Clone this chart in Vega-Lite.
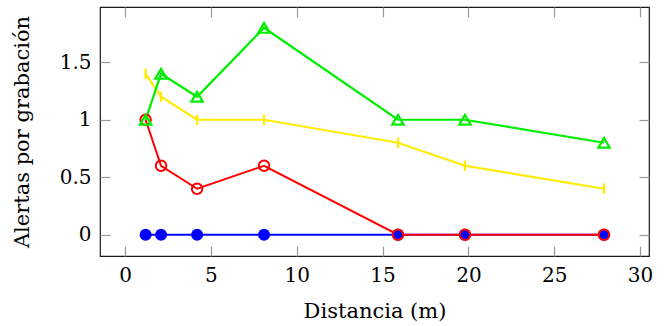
{
  "$schema": "https://vega.github.io/schema/vega-lite/v6.json",
  "width": 549,
  "height": 249,
  "autosize": {"type": "none"},
  "padding": {"left": 100, "top": 7, "right": 16, "bottom": 70},
  "background": "white",
  "config": {
    "view": {"stroke": "#1a1a1a", "strokeWidth": 1.2},
    "axis": {
      "grid": false,
      "domain": false,
      "tickColor": "#9a9a9a",
      "tickWidth": 1.2,
      "tickSize": -10,
      "labelFont": "DejaVu Serif",
      "titleFont": "DejaVu Serif",
      "labelFontSize": 20,
      "titleFontSize": 21,
      "labelColor": "#000000",
      "titleColor": "#000000",
      "titleFontWeight": "normal",
      "labelPadding": 19
    }
  },
  "data": {
    "values": [
      {"s": "azul", "d": 1.2, "v": 0},
      {"s": "azul", "d": 2.1, "v": 0},
      {"s": "azul", "d": 4.2, "v": 0},
      {"s": "azul", "d": 8.1, "v": 0},
      {"s": "azul", "d": 15.9, "v": 0},
      {"s": "azul", "d": 19.8, "v": 0},
      {"s": "azul", "d": 27.9, "v": 0},
      {"s": "rojo", "d": 1.2, "v": 1},
      {"s": "rojo", "d": 2.1, "v": 0.6},
      {"s": "rojo", "d": 4.2, "v": 0.4},
      {"s": "rojo", "d": 8.1, "v": 0.6},
      {"s": "rojo", "d": 15.9, "v": 0},
      {"s": "rojo", "d": 19.8, "v": 0},
      {"s": "rojo", "d": 27.9, "v": 0},
      {"s": "amarillo", "d": 1.2, "v": 1.4},
      {"s": "amarillo", "d": 2.1, "v": 1.2},
      {"s": "amarillo", "d": 4.2, "v": 1},
      {"s": "amarillo", "d": 8.1, "v": 1},
      {"s": "amarillo", "d": 15.9, "v": 0.8},
      {"s": "amarillo", "d": 19.8, "v": 0.6},
      {"s": "amarillo", "d": 27.9, "v": 0.4},
      {"s": "verde", "d": 1.2, "v": 1},
      {"s": "verde", "d": 2.1, "v": 1.4},
      {"s": "verde", "d": 4.2, "v": 1.2},
      {"s": "verde", "d": 8.1, "v": 1.8},
      {"s": "verde", "d": 15.9, "v": 1},
      {"s": "verde", "d": 19.8, "v": 1},
      {"s": "verde", "d": 27.9, "v": 0.8}
    ]
  },
  "encoding": {
    "x": {"field": "d", "type": "quantitative", "scale": {"domain": [-1.456, 30.52], "nice": false, "zero": false}, "axis": null},
    "y": {"field": "v", "type": "quantitative", "scale": {"domain": [-0.185, 1.981], "nice": false, "zero": false}, "axis": null}
  },
  "resolve": {"axis": {"x": "independent", "y": "independent"}},
  "layer": [
    {
      "transform": [{"filter": "datum.s === 'azul'"}],
      "mark": {"type": "line", "color": "#0000ff", "strokeWidth": 2.2},
      "encoding": {
        "x": {"field": "d", "type": "quantitative", "scale": {"domain": [-1.456, 30.52], "nice": false, "zero": false},
              "axis": {"orient": "bottom", "values": [0, 5, 10, 15, 20, 25, 30], "title": "Distancia (m)", "titlePadding": 15}},
        "y": {"field": "v", "type": "quantitative", "scale": {"domain": [-0.185, 1.981], "nice": false, "zero": false},
              "axis": {"orient": "left", "values": [0, 0.5, 1, 1.5], "format": "~g", "title": "Alertas por grabación", "titlePadding": 27}}
      }
    },
    {
      "transform": [{"filter": "datum.s === 'rojo'"}],
      "mark": {"type": "line", "color": "#ff0000", "strokeWidth": 2},
      "encoding": {
        "x": {"field": "d", "type": "quantitative", "scale": {"domain": [-1.456, 30.52], "nice": false, "zero": false},
              "axis": {"orient": "top", "values": [0, 5, 10, 15, 20, 25, 30], "labels": false, "title": null}},
        "y": {"field": "v", "type": "quantitative", "scale": {"domain": [-0.185, 1.981], "nice": false, "zero": false},
              "axis": {"orient": "right", "values": [0, 0.5, 1, 1.5], "labels": false, "title": null}}
      }
    },
    {
      "transform": [{"filter": "datum.s === 'amarillo'"}],
      "mark": {"type": "line", "color": "#ffec00", "strokeWidth": 2.2}
    },
    {
      "transform": [{"filter": "datum.s === 'verde'"}],
      "mark": {"type": "line", "color": "#00ee00", "strokeWidth": 2.2}
    },
    {
      "transform": [{"filter": "datum.s === 'azul'"}],
      "mark": {"type": "point", "shape": "circle", "filled": true, "color": "#0000ff", "size": 144, "opacity": 1}
    },
    {
      "transform": [{"filter": "datum.s === 'rojo'"}],
      "mark": {"type": "point", "shape": "circle", "filled": false, "color": "#ff0000", "size": 110, "strokeWidth": 2, "opacity": 1}
    },
    {
      "transform": [{"filter": "datum.s === 'amarillo'"}],
      "mark": {"type": "point", "shape": "M0,-1L0,1", "filled": false, "color": "#ffec00", "size": 110, "strokeWidth": 2.2, "opacity": 1}
    },
    {
      "transform": [{"filter": "datum.s === 'verde'"}],
      "mark": {"type": "point", "shape": "triangle-up", "filled": false, "color": "#00ee00", "size": 130, "strokeWidth": 2.2, "opacity": 1}
    }
  ]
}
